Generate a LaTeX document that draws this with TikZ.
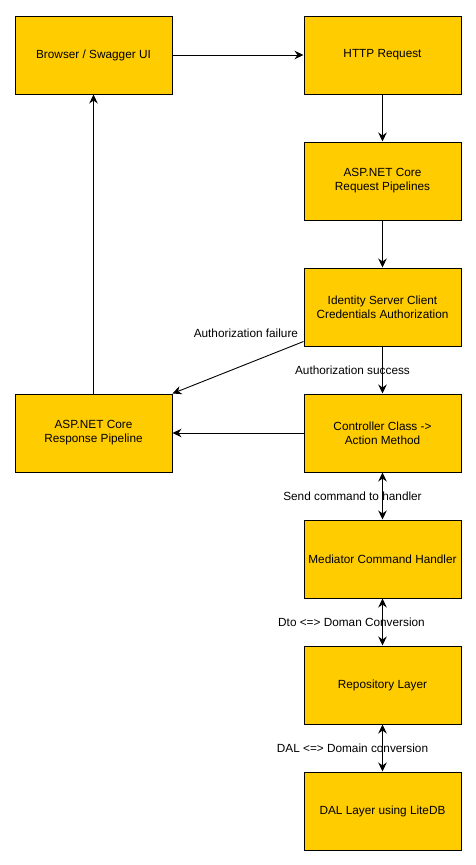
\documentclass[tikz,border=0pt]{standalone}
\usepackage{fontspec}
\setmainfont{Liberation Sans}
\usetikzlibrary{arrows.meta}
\definecolor{boxyellow}{HTML}{FFCC00}
\tikzset{
	box/.style={draw=black, fill=boxyellow, line width=1pt, minimum width=157pt, minimum height=78pt, align=center, font=\fontsize{11.8}{14}\selectfont},
	lbl/.style={font=\fontsize{11.8}{14}\selectfont, inner sep=0pt},
	conn/.style={line width=0.9pt, -{Stealth[length=9pt,width=8.5pt,inset=3pt]}},
	biconn/.style={line width=0.9pt, {Stealth[length=9pt,width=8.5pt,inset=3pt]}-{Stealth[length=9pt,width=8.5pt,inset=3pt]}}
}
\begin{document}
\begin{tikzpicture}[x=1pt,y=-1pt]
	\useasboundingbox (0,0) rectangle (475,865);
	\node[box] (browser) at (93.5,55) {Browser / Swagger UI};
	\node[box] (http) at (382.5,55) {HTTP Request};
	\node[box] (reqpipe) at (382.5,181) {ASP.NET Core\\Request Pipelines};
	\node[box] (ident) at (382.5,307) {Identity Server Client\\Credentials Authorization};
	\node[box] (ctrl) at (382.5,433) {Controller Class ->\\Action Method};
	\node[box] (resp) at (93.5,433) {ASP.NET Core\\Response Pipeline};
	\node[box] (mediator) at (382.5,559) {Mediator Command Handler};
	\node[box] (repo) at (382.5,685) {Repository Layer};
	\node[box] (dal) at (382.5,811) {DAL Layer using LiteDB};

	\draw[conn] (browser) -- (http);
	\draw[conn] (http) -- (reqpipe);
	\draw[conn] (reqpipe) -- (ident);
	\draw[conn] (ident) -- node[lbl, xshift=-30pt]{Authorization success} (ctrl);
	\draw[conn] ([yshift=5pt]ident.south west) -- node[lbl, pos=0, anchor=east, xshift=-5pt, yshift=8pt]{Authorization failure} (resp.north east);
	\draw[conn] (ctrl) -- (resp);
	\draw[conn] (resp) -- (browser);
	\draw[biconn] (ctrl) -- node[lbl, xshift=-30pt]{Send command to handler} (mediator);
	\draw[biconn] (mediator) -- node[lbl, xshift=-31pt]{Dto <=> Doman Conversion} (repo);
	\draw[biconn] (repo) -- node[lbl, xshift=-30pt]{DAL <=> Domain conversion} (dal);
\end{tikzpicture}
\end{document}
